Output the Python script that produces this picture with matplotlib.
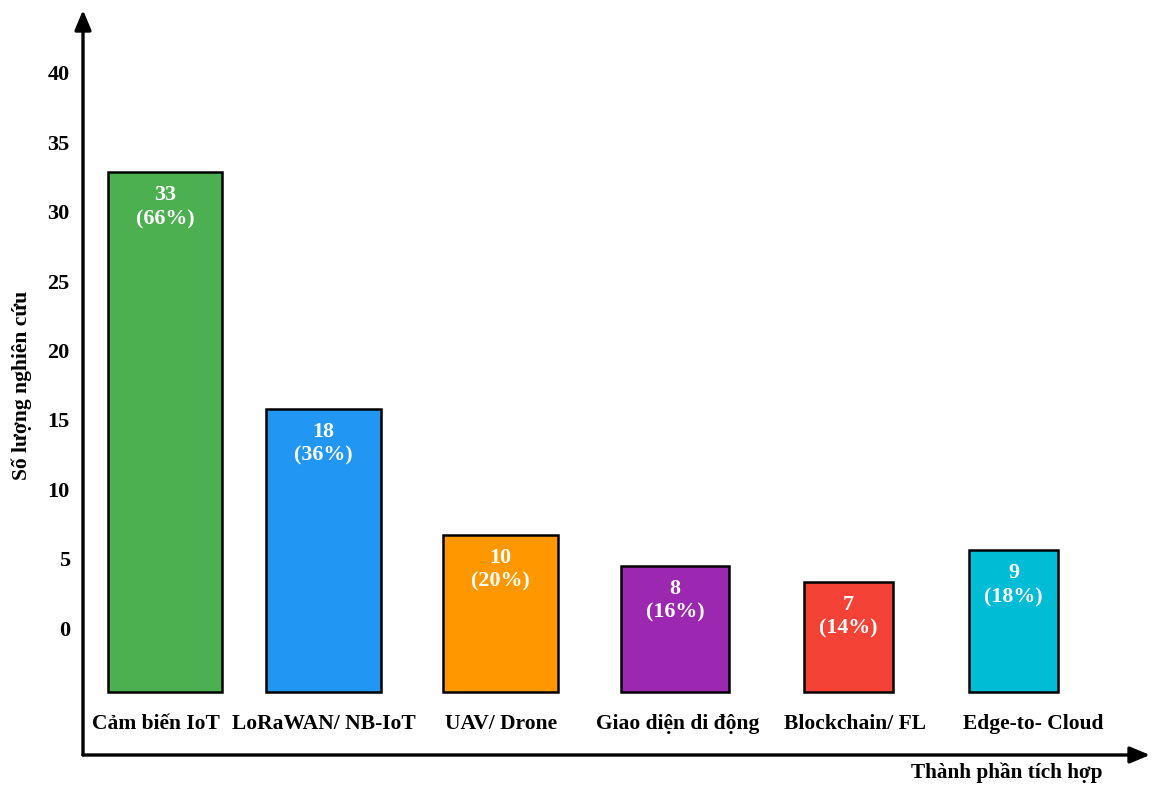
import matplotlib
matplotlib.use('Agg')
from matplotlib import pyplot as plt

categories = ['Cảm biến IoT', 'LoRaWAN/ NB-IoT', 'UAV/ Drone',
              'Giao diện di động', 'Blockchain/ FL', 'Edge-to- Cloud']
counts = [33, 18, 10, 8, 7, 9]
percents = [66, 36, 20, 16, 14, 18]
colors = ['#4CAF50', '#2196F3', '#FF9800', '#9C27B0', '#F44336', '#00BCD4']
tick_labels = [0, 5, 10, 15, 20, 25, 30, 35, 40]

# layout (pixel-ish units from the y axis)
centers = [82, 240.5, 417.5, 592, 765.5, 930.5]
widths = [114, 115, 115, 108, 89, 89]
label_x = [72.5, 241, 418, 595, 772, 950]

plt.rcParams['font.family'] = ['Liberation Serif', 'DejaVu Serif']
plt.rcParams['font.weight'] = 'bold'

W, H = 1158, 785
fig = plt.figure(figsize=(W / 100, H / 100), dpi=100)
x0, y0, x1, y1 = 83, 755, 1150, 10
ax = fig.add_axes([x0 / W, (H - y0) / H, (x1 - x0) / W, (y0 - y1) / H])

scale = 15.75  # px per count
base_px = 692
ax.set_xlim(0, x1 - x0)
ax.set_ylim((base_px - y0) / scale, (base_px - y1) / scale)

ax.bar(centers, counts, width=widths, color=colors, edgecolor='black', linewidth=1.8)

for c, n, p in zip(centers, counts, percents):
    ax.annotate(f'{n}\n({p}%)', (c, n), xytext=(0, -9.5), textcoords='offset points',
                ha='center', va='top', color='white', fontsize=15.8, fontweight='bold',
                linespacing=1.25)

lab_y = (base_px - 724) / scale
for c, name in zip(label_x, categories):
    ax.text(c, lab_y, name, ha='center', va='center', fontsize=15.5, fontweight='bold')

# y tick labels sit on their own scale
ticks = [(base_px - 628 + v * 13.88) / scale for v in tick_labels]
ax.set_yticks(ticks)
ax.set_yticklabels([str(v) for v in tick_labels], fontsize=16, fontweight='bold')
ax.tick_params(axis='y', length=0, pad=9.5)
ax.set_xticks([])

for s in ax.spines.values():
    s.set_visible(False)

arrow = dict(arrowstyle='-|>,head_length=1.2,head_width=0.5', color='black', lw=2.4,
             shrinkA=0, shrinkB=0)
ax.annotate('', xy=(0, 1.0), xytext=(0, 0), xycoords='axes fraction',
            textcoords='axes fraction', arrowprops=arrow, annotation_clip=False)
ax.annotate('', xy=(1.0, 0), xytext=(0, 0), xycoords='axes fraction',
            textcoords='axes fraction', arrowprops=arrow, annotation_clip=False)

fig.text(22 / W, 1 - 385 / H, 'Số lượng nghiên cứu', rotation=90, ha='center', va='center',
         fontsize=15.5, fontweight='bold')
fig.text(1007 / W, 1 - 773 / H, 'Thành phần tích hợp', ha='center', va='center',
         fontsize=15.3, fontweight='bold')

fig.savefig('out.png', dpi=100)
